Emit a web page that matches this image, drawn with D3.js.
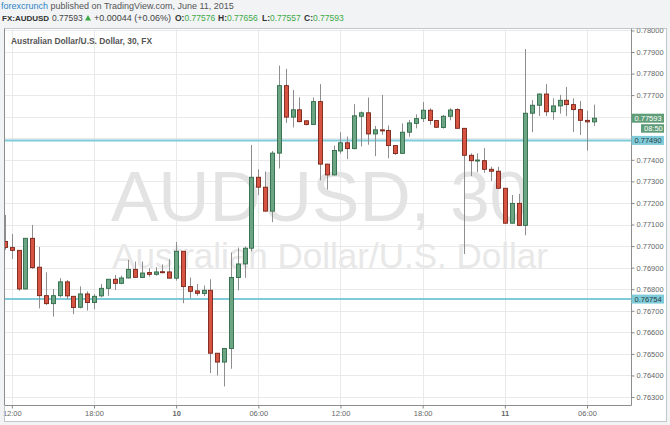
<!DOCTYPE html>
<html><head><meta charset="utf-8">
<script src="https://cdn.jsdelivr.net/npm/d3@7"></script>
<style>
html,body{margin:0;padding:0;background:#f1f3f5;}
svg{display:block;font-family:"Liberation Sans",Arial,sans-serif;}
</style></head><body>
<svg id="chart" width="670" height="425"></svg>
<script>
// ---- data ----
const startTime = Date.UTC(2015, 5, 9, 11, 30); // first 30-minute bar
const barMinutes = 30;
const open = [0.77021,0.76993,0.76980,0.76801,0.77036,0.76902,0.76770,0.76733,0.76770,0.76834,
0.76767,0.76716,0.76778,0.76738,0.76769,0.76804,0.76846,0.76827,0.76852,0.76892,
0.76854,0.76877,0.76869,0.76881,0.76880,0.76851,0.76976,0.76812,0.76792,0.76780,
0.76795,0.76503,0.76462,0.76525,0.76854,0.76917,0.76990,0.77319,0.77273,0.77162,
0.77431,0.77744,0.77598,0.77632,0.77581,0.77564,0.77670,0.77380,0.77330,0.77441,
0.77479,0.77452,0.77602,0.77618,0.77520,0.77539,0.77536,0.77466,0.77430,0.77528,
0.77569,0.77591,0.77630,0.77582,0.77550,0.77602,0.77633,0.77546,0.77421,0.77396,
0.77396,0.77356,0.77347,0.77268,0.77106,0.77198,0.77096,0.77616,0.77653,0.77705,
0.77623,0.77650,0.77676,0.77656,0.77633,0.77583,0.77576];
const high = [0.77144,0.77056,0.76982,0.77037,0.77098,0.76996,0.76878,0.76801,0.76851,0.76843,
0.76768,0.76813,0.76790,0.76778,0.76824,0.76847,0.76866,0.76863,0.76936,0.76928,
0.76928,0.76897,0.76902,0.76915,0.76939,0.77019,0.76977,0.76854,0.76824,0.76817,
0.76846,0.76504,0.76526,0.76970,0.76993,0.76998,0.77469,0.77356,0.77346,0.77441,
0.77837,0.77822,0.77724,0.77690,0.77582,0.77689,0.77751,0.77381,0.77466,0.77528,
0.77508,0.77658,0.77624,0.77689,0.77557,0.77701,0.77559,0.77467,0.77569,0.77585,
0.77611,0.77668,0.77639,0.77585,0.77608,0.77639,0.77639,0.77547,0.77430,0.77430,
0.77455,0.77368,0.77368,0.77268,0.77237,0.77242,0.77914,0.77677,0.77708,0.77752,
0.77685,0.77701,0.77738,0.77685,0.77673,0.77628,0.77656];
const low = [0.76982,0.76940,0.76793,0.76799,0.76894,0.76711,0.76727,0.76673,0.76762,0.76753,
0.76684,0.76711,0.76701,0.76707,0.76762,0.76769,0.76796,0.76823,0.76849,0.76852,
0.76852,0.76858,0.76863,0.76874,0.76850,0.76840,0.76735,0.76758,0.76770,0.76768,
0.76411,0.76400,0.76349,0.76431,0.76795,0.76853,0.76975,0.77236,0.77160,0.77111,
0.77360,0.77571,0.77550,0.77574,0.77559,0.77563,0.77305,0.77262,0.77329,0.77428,
0.77403,0.77448,0.77462,0.77470,0.77417,0.77516,0.77407,0.77423,0.77429,0.77507,
0.77546,0.77575,0.77563,0.77548,0.77545,0.77583,0.77546,0.76963,0.77325,0.77342,
0.77340,0.77302,0.77267,0.77105,0.77105,0.77095,0.77050,0.77528,0.77603,0.77603,
0.77586,0.77614,0.77603,0.77529,0.77515,0.77443,0.77557];
const close = [0.76993,0.76980,0.76801,0.77036,0.76900,0.76770,0.76733,0.76770,0.76834,0.76769,
0.76715,0.76778,0.76738,0.76767,0.76804,0.76846,0.76827,0.76852,0.76892,0.76855,
0.76875,0.76869,0.76880,0.76878,0.76851,0.76976,0.76812,0.76790,0.76781,0.76795,
0.76503,0.76462,0.76525,0.76854,0.76917,0.76990,0.77319,0.77273,0.77162,0.77431,
0.77744,0.77598,0.77632,0.77577,0.77564,0.77670,0.77380,0.77330,0.77443,0.77479,
0.77452,0.77604,0.77618,0.77520,0.77539,0.77534,0.77466,0.77429,0.77528,0.77571,
0.77591,0.77630,0.77582,0.77551,0.77602,0.77631,0.77546,0.77421,0.77396,0.77399,
0.77356,0.77347,0.77268,0.77106,0.77198,0.77096,0.77616,0.77653,0.77705,0.77623,
0.77650,0.77676,0.77656,0.77633,0.77583,0.77576,0.77593];
const yTicks = [0.763,0.764,0.765,0.766,0.767,0.768,0.769,0.770,0.771,0.772,0.773,0.774,0.775,0.776,0.777,0.778,0.779,0.780];
const xTickTimes = [Date.UTC(2015,5,9,12),Date.UTC(2015,5,9,18),Date.UTC(2015,5,10,0),Date.UTC(2015,5,10,6),
  Date.UTC(2015,5,10,12),Date.UTC(2015,5,10,18),Date.UTC(2015,5,11,0),Date.UTC(2015,5,11,6)];
const xTickLabels = ["12:00","18:00","10","06:00","12:00","18:00","11","06:00"];
const hLines = [0.77490, 0.76754];
const lastPrice = 0.77593;
const countdown = "08:50";
const ohlcLabels = ["O:","H:","L:","C:"];
const ohlcValues = ["0.77576","0.77656","0.77557","0.77593"];

// ---- layout ----
const svg = d3.select("#chart");
const panel = {x0:4.5, y0:28.5, x1:666.5, y1:421.5};
const plot = {x0:4.5, x1:631.5, y0:28.5, y1:405.5};
const upFill="#6ba583", upStroke="#2f6b48", dnFill="#d75442", dnStroke="#7a2418", wickC="#8e8e8e";
const cyan="#7fcbd9";

const x = d3.scaleUtc().domain([new Date(xTickTimes[0]), new Date(xTickTimes[7])]).range([11.8, 587]);
const y = d3.scaleLinear().domain([0.763, 0.779]).range([397, 52]);
const times = open.map((_, i) => new Date(startTime + i * barMinutes * 60000));

// panel
svg.append("rect").attr("x",panel.x0).attr("y",panel.y0).attr("width",panel.x1-panel.x0).attr("height",panel.y1-panel.y0)
  .attr("fill","#fff").attr("stroke","#c4c7ca");

// header (natural text widths, no stretching)
const hdr = svg.append("g");
const l1 = hdr.append("text").attr("x",1).attr("y",9).attr("font-size","9px");
l1.append("tspan").attr("fill","#2f86c6").text("forexcrunch");
l1.append("tspan").attr("fill","#555").text(" published on TradingView.com, June 11, 2015");
hdr.append("text").attr("x",2).attr("y",21).attr("font-size","8px").attr("font-weight","bold").attr("fill","#333").text("FX:AUDUSD");
hdr.append("text").attr("x",52).attr("y",21).attr("font-size","8.5px").attr("fill","#444").text("0.77593");
hdr.append("path").attr("d","M85,20.5 L91,20.5 L88,15 Z").attr("fill","#3faa45");
hdr.append("text").attr("x",94).attr("y",21).attr("font-size","9px").attr("fill","#444").text("+0.00044 (+0.06%)");
const ohlcX = [175,218,262,304];
ohlcLabels.forEach((lab,i)=>{
  const t = hdr.append("text").attr("x",ohlcX[i]).attr("y",21).attr("font-size","8.5px");
  t.append("tspan").attr("font-weight","bold").attr("fill","#333").text(lab);
  t.append("tspan").attr("fill","#3faa45").text(ohlcValues[i]);
});

// clip
svg.append("clipPath").attr("id","pc").append("rect").attr("x",plot.x0).attr("y",plot.y0).attr("width",plot.x1-plot.x0).attr("height",plot.y1-plot.y0);
svg.append("clipPath").attr("id","ac").append("rect").attr("x",plot.x1).attr("y",plot.y0).attr("width",panel.x1-plot.x1).attr("height",plot.y1-plot.y0);
const g = svg.append("g").attr("clip-path","url(#pc)");

// grid
g.selectAll(".hg").data(yTicks).enter().append("line")
  .attr("x1",plot.x0).attr("x2",plot.x1).attr("y1",d=>Math.round(y(d))+0.5).attr("y2",d=>Math.round(y(d))+0.5)
  .attr("stroke","#e9e9e9");
g.selectAll(".vg").data(xTickTimes).enter().append("line")
  .attr("y1",plot.y0).attr("y2",plot.y1).attr("x1",d=>Math.round(x(new Date(d)))+0.5).attr("x2",d=>Math.round(x(new Date(d)))+0.5)
  .attr("stroke","#e9e9e9");

// watermark
g.append("text").attr("x",320).attr("y",221).attr("text-anchor","middle").attr("font-size","71px")
  .attr("fill","#e3e3e3").text("AUDUSD, 30");
g.append("text").attr("x",330).attr("y",268).attr("text-anchor","middle").attr("font-size","35px")
  .attr("fill","#e8e8e8").text("Australian Dollar/U.S. Dollar");
g.append("text").attr("x",11).attr("y",44).attr("font-size","8.5px").attr("font-weight","bold")
  .attr("fill","#555").attr("textLength",141).attr("lengthAdjust","spacingAndGlyphs").text("Australian Dollar/U.S. Dollar, 30, FX");

// horizontal lines
g.selectAll(".hl").data(hLines).enter().append("line")
  .attr("x1",plot.x0).attr("x2",plot.x1).attr("y1",d=>y(d)).attr("y2",d=>y(d))
  .attr("stroke",cyan).attr("stroke-width",2);

// candles
const candles = g.selectAll(".c").data(open.map((o,i)=>({t:times[i],o,h:high[i],l:low[i],c:close[i]})))
  .enter().append("g");
candles.append("line")
  .attr("x1",d=>Math.round(x(d.t))+0.5).attr("x2",d=>Math.round(x(d.t))+0.5)
  .attr("y1",d=>y(d.h)).attr("y2",d=>y(d.l)).attr("stroke",wickC).attr("stroke-width",1);
candles.append("rect")
  .attr("x",d=>Math.round(x(d.t))-1.5).attr("width",4)
  .attr("y",d=>y(Math.max(d.o,d.c))).attr("height",d=>Math.max(1,Math.abs(y(d.o)-y(d.c))))
  .attr("fill",d=>d.c>=d.o?upFill:dnFill).attr("stroke",d=>d.c>=d.o?upStroke:dnStroke).attr("stroke-width",0.9);

// plot frame
svg.append("path").attr("d",`M${plot.x0},${plot.y0} V${plot.y1} H${plot.x1} V${plot.y0}`)
  .attr("fill","none").attr("stroke","#8d8d8d");

// price-axis label boxes (covering the tick labels beneath them, as in the reference)
const boxes = [
  ...hLines.map(v=>({v, txt:d3.format(".5f")(v), bg:cyan, fg:"#2c3e45"})),
  {v:lastPrice, txt:d3.format(".5f")(lastPrice), bg:"#5f9d78", fg:"#fff"}
];
const covered = t => boxes.some(b => Math.abs(y(b.v) - y(t)) < 6);

// y axis
const ya = svg.append("g").attr("clip-path","url(#ac)").append("g").attr("transform",`translate(${plot.x1},0)`)
  .call(d3.axisRight(y).tickValues(yTicks).tickFormat(d => covered(d) ? "" : d3.format(".5f")(d)).tickSize(3).tickPadding(2));
ya.select(".domain").remove();
ya.selectAll("line").attr("stroke","#888");
ya.selectAll("text").attr("font-size","7.5px").attr("fill","#666").attr("font-family","Liberation Sans, Arial, sans-serif");

boxes.forEach(b=>{
  const yy = y(b.v);
  svg.append("rect").attr("x",631.5).attr("y",yy-4.5).attr("width",32.5).attr("height",9).attr("fill",b.bg);
  svg.append("text").attr("x",634.5).attr("y",yy+2.7).attr("font-size","7.5px").attr("fill",b.fg).text(b.txt);
});
svg.append("rect").attr("x",641).attr("y",y(lastPrice)+6).attr("width",23).attr("height",8.5).attr("fill","#5f9d78");
svg.append("text").attr("x",644).attr("y",y(lastPrice)+12.8).attr("font-size","7.5px").attr("fill","#fff").text(countdown);

// x axis
const xa = svg.append("g").attr("transform",`translate(0,${plot.y1})`)
  .call(d3.axisBottom(x).tickValues(xTickTimes.map(d=>new Date(d))).tickFormat((d,i)=>xTickLabels[i]).tickSize(3).tickPadding(2));
xa.select(".domain").remove();
xa.selectAll("line").attr("stroke","#888");
xa.selectAll("text").attr("font-size","7.5px").attr("fill","#666").attr("font-family","Liberation Sans, Arial, sans-serif")
  .attr("font-weight",(d,i)=>xTickLabels[i].length<3?"bold":"normal");

svg.append("line").attr("x1",panel.x0).attr("x2",panel.x0).attr("y1",plot.y1).attr("y2",panel.y1).attr("stroke","#c4c7ca");
</script>
</body></html>
